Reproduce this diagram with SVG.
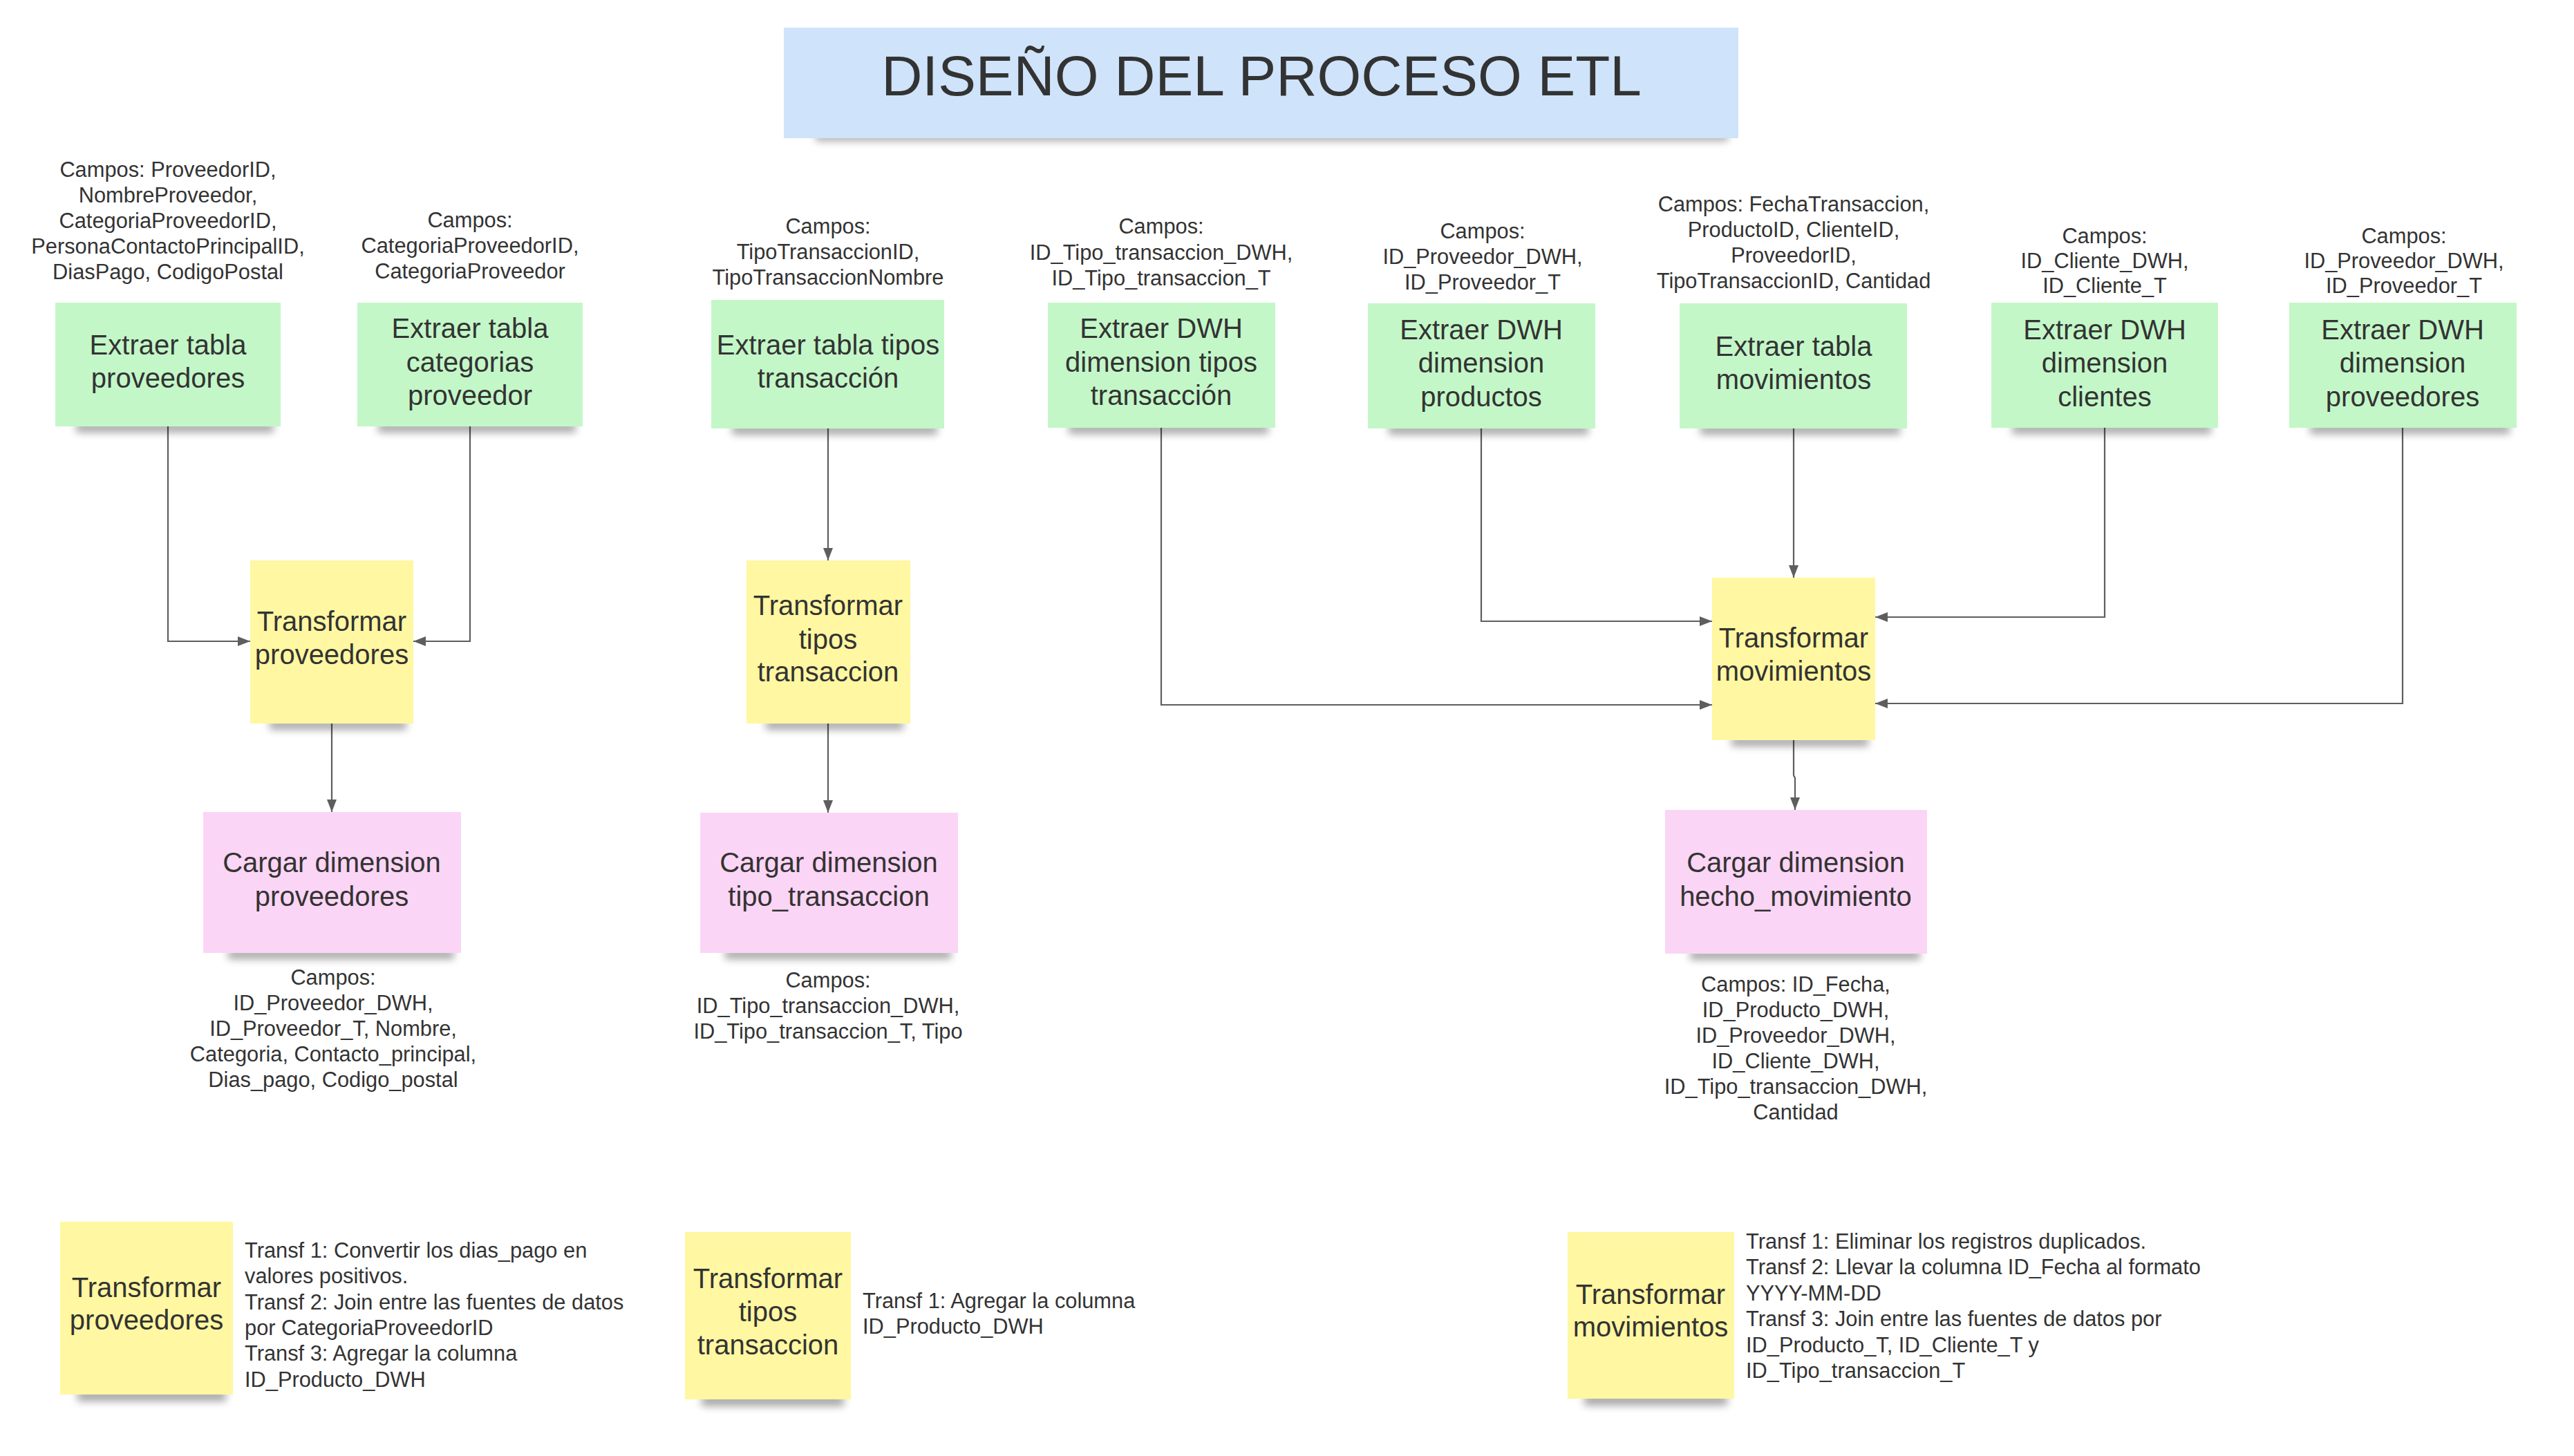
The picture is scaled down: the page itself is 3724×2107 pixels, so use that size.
<svg xmlns="http://www.w3.org/2000/svg" width="3724" height="2107" viewBox="0 0 3724 2107">
<defs>
<style>
text{font-family:"Liberation Sans",Arial,sans-serif;fill:#333333}
.t{font-size:82px}
.n{font-size:40px;text-anchor:middle}
.s{font-size:30.8px;text-anchor:middle}
.l{font-size:30.8px;text-anchor:start}
.g{fill:#c3f7c8}
.y{fill:#fff7a1}
.p{fill:#fbd5f5}
.b{fill:#cfe3fa}
.sh{fill:#000;opacity:0.34;filter:url(#blur)}
.c{fill:none;stroke:#5e5e5e;stroke-width:2.2;marker-end:url(#ah)}
</style>
<filter id="blur" x="-20%" y="-200%" width="140%" height="500%"><feGaussianBlur stdDeviation="6"/></filter>
<marker id="ah" markerUnits="userSpaceOnUse" markerWidth="18" markerHeight="14" refX="18" refY="7" orient="auto"><path d="M0,0 L18,7 L0,14 z" fill="#5e5e5e"/></marker>
</defs>
<rect width="3724" height="2107" fill="#ffffff"/>

<g id="title">
<rect class="sh" x="1180" y="192" width="1320" height="12"/>
<rect class="b" x="1134" y="40" width="1381" height="160"/>
<text class="t" x="1825" y="138" text-anchor="middle">DISEÑO DEL PROCESO ETL</text>
</g>

<g id="connectors">
<path class="c" d="M243,617 V928 H362"/>
<path class="c" d="M680,617 V928 H598"/>
<path class="c" d="M480,1047 V1175"/>
<path class="c" d="M1198,620 V811"/>
<path class="c" d="M1198,1047 V1176"/>
<path class="c" d="M1680,619 V1020 H2477"/>
<path class="c" d="M2143,620 V899 H2477"/>
<path class="c" d="M2595,620 V836"/>
<path class="c" d="M3045,619 V893 H2713"/>
<path class="c" d="M3476,619 V1018 H2713"/>
<path class="c" d="M2595,1071 V1122 L2597,1126 V1172"/>
</g>

<g id="ext-proveedores">
<rect class="sh" x="110" y="612" width="286" height="14"/>
<rect class="g" x="80" y="438" width="326" height="179"/>
<text class="n"><tspan x="243" y="513">Extraer tabla</tspan><tspan x="243" y="561">proveedores</tspan></text>
<text class="s"><tspan x="243" y="256">Campos: ProveedorID,</tspan><tspan x="243" y="293">NombreProveedor,</tspan><tspan x="243" y="330">CategoriaProveedorID,</tspan><tspan x="243" y="367">PersonaContactoPrincipalID,</tspan><tspan x="243" y="404">DiasPago, CodigoPostal</tspan></text>
</g>

<g id="ext-categorias">
<rect class="sh" x="547" y="612" width="286" height="14"/>
<rect class="g" x="517" y="438" width="326" height="179"/>
<text class="n"><tspan x="680" y="489">Extraer tabla</tspan><tspan x="680" y="538">categorias</tspan><tspan x="680" y="586">proveedor</tspan></text>
<text class="s"><tspan x="680" y="329">Campos:</tspan><tspan x="680" y="366">CategoriaProveedorID,</tspan><tspan x="680" y="403">CategoriaProveedor</tspan></text>
</g>

<g id="ext-tipos">
<rect class="sh" x="1059" y="615" width="297" height="14"/>
<rect class="g" x="1029" y="434" width="337" height="186"/>
<text class="n"><tspan x="1198" y="513">Extraer tabla tipos</tspan><tspan x="1198" y="561">transacción</tspan></text>
<text class="s"><tspan x="1198" y="338">Campos:</tspan><tspan x="1198" y="375">TipoTransaccionID,</tspan><tspan x="1198" y="412">TipoTransaccionNombre</tspan></text>
</g>

<g id="ext-dwh-tipos">
<rect class="sh" x="1546" y="614" width="289" height="14"/>
<rect class="g" x="1516" y="438" width="329" height="181"/>
<text class="n"><tspan x="1680" y="489">Extraer DWH</tspan><tspan x="1680" y="538">dimension tipos</tspan><tspan x="1680" y="586">transacción</tspan></text>
<text class="s"><tspan x="1680" y="338">Campos:</tspan><tspan x="1680" y="376">ID_Tipo_transaccion_DWH,</tspan><tspan x="1680" y="413">ID_Tipo_transaccion_T</tspan></text>
</g>

<g id="ext-dwh-productos">
<rect class="sh" x="2009" y="615" width="289" height="14"/>
<rect class="g" x="1979" y="439" width="329" height="181"/>
<text class="n"><tspan x="2143" y="491">Extraer DWH</tspan><tspan x="2143" y="539">dimension</tspan><tspan x="2143" y="588">productos</tspan></text>
<text class="s"><tspan x="2145" y="345">Campos:</tspan><tspan x="2145" y="382">ID_Proveedor_DWH,</tspan><tspan x="2145" y="419">ID_Proveedor_T</tspan></text>
</g>

<g id="ext-movimientos">
<rect class="sh" x="2460" y="615" width="289" height="14"/>
<rect class="g" x="2430" y="439" width="329" height="181"/>
<text class="n"><tspan x="2595" y="515">Extraer tabla</tspan><tspan x="2595" y="563">movimientos</tspan></text>
<text class="s"><tspan x="2595" y="306">Campos: FechaTransaccion,</tspan><tspan x="2595" y="343">ProductoID, ClienteID,</tspan><tspan x="2595" y="380">ProveedorID,</tspan><tspan x="2595" y="417">TipoTransaccionID, Cantidad</tspan></text>
</g>

<g id="ext-dwh-clientes">
<rect class="sh" x="2911" y="614" width="288" height="14"/>
<rect class="g" x="2881" y="438" width="328" height="181"/>
<text class="n"><tspan x="3045" y="491">Extraer DWH</tspan><tspan x="3045" y="539">dimension</tspan><tspan x="3045" y="588">clientes</tspan></text>
<text class="s"><tspan x="3045" y="352">Campos:</tspan><tspan x="3045" y="388">ID_Cliente_DWH,</tspan><tspan x="3045" y="424">ID_Cliente_T</tspan></text>
</g>

<g id="ext-dwh-proveedores">
<rect class="sh" x="3342" y="614" width="289" height="14"/>
<rect class="g" x="3312" y="438" width="329" height="181"/>
<text class="n"><tspan x="3476" y="491">Extraer DWH</tspan><tspan x="3476" y="539">dimension</tspan><tspan x="3476" y="588">proveedores</tspan></text>
<text class="s"><tspan x="3478" y="352">Campos:</tspan><tspan x="3478" y="388">ID_Proveedor_DWH,</tspan><tspan x="3478" y="424">ID_Proveedor_T</tspan></text>
</g>

<g id="tr-proveedores">
<rect class="sh" x="390" y="1042" width="198" height="14"/>
<rect class="y" x="362" y="811" width="236" height="236"/>
<text class="n"><tspan x="480" y="913">Transformar</tspan><tspan x="480" y="961">proveedores</tspan></text>
</g>

<g id="tr-tipos">
<rect class="sh" x="1108" y="1042" width="199" height="14"/>
<rect class="y" x="1080" y="811" width="237" height="236"/>
<text class="n"><tspan x="1198" y="890">Transformar</tspan><tspan x="1198" y="939">tipos</tspan><tspan x="1198" y="986">transaccion</tspan></text>
</g>

<g id="tr-movimientos">
<rect class="sh" x="2505" y="1066" width="198" height="14"/>
<rect class="y" x="2477" y="836" width="236" height="235"/>
<text class="n"><tspan x="2595" y="937">Transformar</tspan><tspan x="2595" y="985">movimientos</tspan></text>
</g>

<g id="load-proveedores">
<rect class="sh" x="330" y="1374" width="327" height="14"/>
<rect class="p" x="294" y="1175" width="373" height="204"/>
<text class="n"><tspan x="480" y="1262">Cargar dimension</tspan><tspan x="480" y="1311">proveedores</tspan></text>
<text class="s"><tspan x="482" y="1425">Campos:</tspan><tspan x="482" y="1462">ID_Proveedor_DWH,</tspan><tspan x="482" y="1499">ID_Proveedor_T, Nombre,</tspan><tspan x="482" y="1536">Categoria, Contacto_principal,</tspan><tspan x="482" y="1573">Dias_pago, Codigo_postal</tspan></text>
</g>

<g id="load-tipo">
<rect class="sh" x="1049" y="1374" width="327" height="14"/>
<rect class="p" x="1013" y="1176" width="373" height="203"/>
<text class="n"><tspan x="1199" y="1262">Cargar dimension</tspan><tspan x="1199" y="1311">tipo_transaccion</tspan></text>
<text class="s"><tspan x="1198" y="1429">Campos:</tspan><tspan x="1198" y="1466">ID_Tipo_transaccion_DWH,</tspan><tspan x="1198" y="1503">ID_Tipo_transaccion_T, Tipo</tspan></text>
</g>

<g id="load-hecho">
<rect class="sh" x="2445" y="1375" width="333" height="14"/>
<rect class="p" x="2409" y="1172" width="379" height="208"/>
<text class="n"><tspan x="2598" y="1262">Cargar dimension</tspan><tspan x="2598" y="1311">hecho_movimiento</tspan></text>
<text class="s"><tspan x="2598" y="1435">Campos: ID_Fecha,</tspan><tspan x="2598" y="1472">ID_Producto_DWH,</tspan><tspan x="2598" y="1509">ID_Proveedor_DWH,</tspan><tspan x="2598" y="1546">ID_Cliente_DWH,</tspan><tspan x="2598" y="1583">ID_Tipo_transaccion_DWH,</tspan><tspan x="2598" y="1620">Cantidad</tspan></text>
</g>

<g id="legend-proveedores">
<rect class="sh" x="112" y="2012" width="215" height="16"/>
<rect class="y" x="87" y="1768" width="250" height="250"/>
<text class="n"><tspan x="212" y="1877">Transformar</tspan><tspan x="212" y="1924">proveedores</tspan></text>
<text class="l"><tspan x="354" y="1820">Transf 1: Convertir los dias_pago en</tspan><tspan x="354" y="1857">valores positivos.</tspan><tspan x="354" y="1895">Transf 2: Join entre las fuentes de datos</tspan><tspan x="354" y="1932">por CategoriaProveedorID</tspan><tspan x="354" y="1969">Transf 3: Agregar la columna</tspan><tspan x="354" y="2007">ID_Producto_DWH</tspan></text>
</g>

<g id="legend-tipos">
<rect class="sh" x="1015" y="2019" width="206" height="16"/>
<rect class="y" x="991" y="1783" width="240" height="242"/>
<text class="n"><tspan x="1111" y="1864">Transformar</tspan><tspan x="1111" y="1912">tipos</tspan><tspan x="1111" y="1960">transaccion</tspan></text>
<text class="l"><tspan x="1248" y="1893">Transf 1: Agregar la columna</tspan><tspan x="1248" y="1930">ID_Producto_DWH</tspan></text>
</g>

<g id="legend-movimientos">
<rect class="sh" x="2292" y="2018" width="207" height="16"/>
<rect class="y" x="2268" y="1783" width="241" height="241"/>
<text class="n"><tspan x="2388" y="1887">Transformar</tspan><tspan x="2388" y="1934">movimientos</tspan></text>
<text class="l"><tspan x="2526" y="1807">Transf 1: Eliminar los registros duplicados.</tspan><tspan x="2526" y="1844">Transf 2: Llevar la columna ID_Fecha al formato</tspan><tspan x="2526" y="1882">YYYY-MM-DD</tspan><tspan x="2526" y="1919">Transf 3: Join entre las fuentes de datos por</tspan><tspan x="2526" y="1957">ID_Producto_T, ID_Cliente_T y</tspan><tspan x="2526" y="1994">ID_Tipo_transaccion_T</tspan></text>
</g>
</svg>
